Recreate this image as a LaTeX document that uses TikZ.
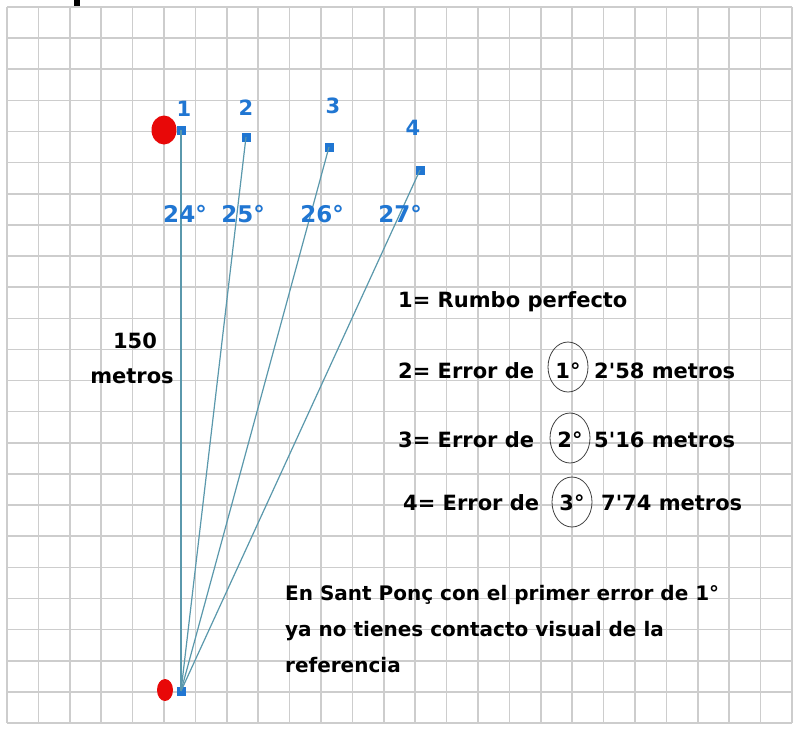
\documentclass[tikz,border=0pt]{standalone}
\usepackage{fontspec}
\setmainfont{DejaVu Sans}
\usetikzlibrary{positioning,shapes.geometric}
\definecolor{rumbo}{RGB}{90,152,172}
\definecolor{azul}{RGB}{32,118,210}
\definecolor{rojo}{RGB}{232,8,8}
\definecolor{rejilla}{RGB}{205,205,205}

\begin{document}
\begin{tikzpicture}[x=1pt,y=-1pt,
  punto/.style={fill=azul,minimum size=9pt,inner sep=0pt},
  boya/.style={ellipse,fill=rojo,inner sep=0pt},
  numero/.style={text=azul,font=\bfseries\fontsize{21}{21}\selectfont,inner sep=0pt,anchor=base},
  texto/.style={font=\bfseries\fontsize{21}{24}\selectfont,inner sep=0pt,anchor=base west},
  circulo/.style={draw=black!75,ellipse,line width=0.8pt,minimum width=40pt,minimum height=50pt,inner sep=0pt}]
  \useasboundingbox[fill=white] (0,0) rectangle (799,731);
  \fill (74,0) rectangle (80,7);
  \foreach \i in {0,...,25}
    \draw[rejilla,line width=1.6pt] (7+31.4*\i,7) -- (7+31.4*\i,723);
  \foreach \j in {0,...,23}
    \draw[rejilla,line width=1.6pt] (7,7+31.13*\j) -- (792,7+31.13*\j);

  \node[boya,minimum width=25pt,minimum height=29pt] (rojoa) at (164,130) {};
  \node[boya,minimum width=16pt,minimum height=22pt] (rojob) at (165,690) {};
  \node[punto] (base) at (181,691) {};
  \node[punto] (p1) at (181,130) {};
  \node[punto] (p2) at (246,137) {};
  \node[punto] (p3) at (329,147) {};
  \node[punto] (p4) at (420,170) {};
  \foreach \n in {1,...,4}
    \draw[rumbo,line width=1.2pt] (base.center) -- (p\n.center);

  \node[numero] (n1) at (184,116) {1};
  \node[numero] (n2) at (246,115) {2};
  \node[numero] (n3) at (333,113) {3};
  \node[numero] (n4) at (413,135) {4};
  \node[numero,font=\bfseries\fontsize{23}{23}\selectfont] (g24) at (185,222) {24°};
  \node[numero,font=\bfseries\fontsize{23}{23}\selectfont] (g25) at (243,222) {25°};
  \node[numero,font=\bfseries\fontsize{23}{23}\selectfont] (g26) at (322,222) {26°};
  \node[numero,font=\bfseries\fontsize{23}{23}\selectfont] (g27) at (400,222) {27°};

  \node[texto,anchor=base] (dist) at (135,348) {150};
  \node[texto,anchor=base] (unidad) at (132,383) {metros};

  \node[texto] (l1) at (398,307) {1= Rumbo perfecto};
  \node[texto] (l2) at (398,378) {2= Error de};
  \node[circulo] (c1) at (568,367) {};
  \node[texto,anchor=base] (g1) at (c1.center |- l2.base) {1°};
  \node[texto] (m2) at (594,378) {2\textquotesingle 58 metros};
  \node[texto] (l3) at (398,447) {3= Error de};
  \node[circulo] (c2) at (570,438) {};
  \node[texto,anchor=base] (g2) at (c2.center |- l3.base) {2°};
  \node[texto] (m3) at (594,447) {5\textquotesingle 16 metros};
  \node[texto] (l4) at (403,510) {4= Error de};
  \node[circulo] (c3) at (572,502) {};
  \node[texto,anchor=base] (g3) at (c3.center |- l4.base) {3°};
  \node[texto] (m4) at (601,510) {7\textquotesingle 74 metros};

  \node[texto,anchor=north west,align=left,font=\bfseries\fontsize{20}{36}\selectfont] (nota) at (285,585)
    {En Sant Ponç con el primer error de 1°\\ya no tienes contacto visual de la\\referencia};
\end{tikzpicture}
\end{document}
